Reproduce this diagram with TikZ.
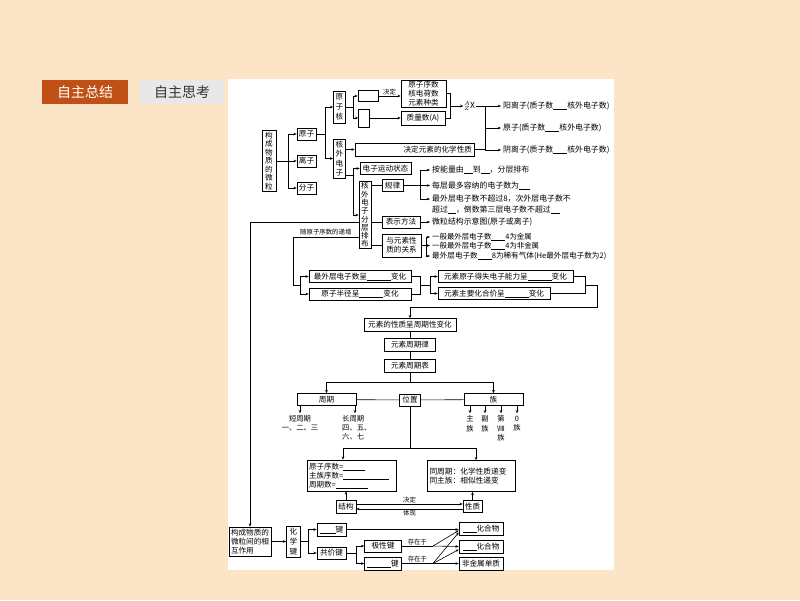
\documentclass[tikz,border=0pt]{standalone}
\usepackage{fontspec}
\setmainfont{Noto Sans CJK SC}
\usetikzlibrary{arrows.meta}
\definecolor{peach}{RGB}{252,229,198}
\definecolor{tabor}{RGB}{192,80,22}
\definecolor{tabgr}{RGB}{232,232,232}
\newcommand{\blank}[1]{\rule[-1.2pt]{#1}{0.5pt}}
\tikzset{
  bx/.style={draw, line width=0.6pt, inner sep=0pt, font=\fontsize{7.6}{9}\selectfont, align=center},
  vb/.style={draw, line width=0.6pt, inner sep=0pt, align=center, font=\fontsize{7.6}{#1}\selectfont},
  ln/.style={line width=0.6pt},
  ar/.style={line width=0.6pt, -{Stealth[length=3.2pt,width=2.6pt]}},
  tx/.style={inner sep=0pt, anchor=west, font=\fontsize{7.9}{9}\selectfont},
  sm/.style={inner sep=1pt, font=\fontsize{6.4}{7}\selectfont},
  tabbox/.style={inner sep=0pt, minimum height=24, font=\fontsize{14}{16}\selectfont},
}
\begin{document}
\begin{tikzpicture}[x=1pt,y=-1pt]
\fill[peach] (0,0) rectangle (800,600);
\useasboundingbox (0,0) rectangle (800,600);
\fill[white] (228,79) rectangle (614,570);
\node[tabbox, fill=tabor, text=white, minimum width=86] (tabA) at (85,92) {自主总结};
\node[tabbox, fill=tabgr, text=black!80, minimum width=84] (tabB) at (182,92) {自主思考};

% ---- top part ----
\node[vb=8.5, minimum width=14, minimum height=61] (gw) at (269,161) {构\\成\\物\\质\\的\\微\\粒};
\node[bx, minimum width=19, minimum height=12] (yz) at (306.5,134) {原子};
\node[bx, minimum width=19, minimum height=12] (lz) at (306.5,161) {离子};
\node[bx, minimum width=19, minimum height=12] (fz) at (306.5,188) {分子};
\node[vb=10, minimum width=12, minimum height=32] (yzh) at (339.5,107) {原\\子\\核};
\node[vb=9.5, minimum width=12, minimum height=39] (hwdz) at (339.5,158.5) {核\\外\\电\\子};
\node[bx, minimum width=20, minimum height=11] (e1) at (368,96) {};
\node[bx, minimum width=11, minimum height=18] (e2) at (364,118) {};
\node[vb=9, minimum width=45, minimum height=27] (xs) at (423.5,93.5) {原子序数\\核电荷数\\元素种类};
\node[bx, minimum width=44, minimum height=14] (zl) at (423,118.5) {质量数(\textit{A})};
\node[inner sep=0.5pt, font=\fontsize{8.5}{9}\selectfont] (zax) at (469.5,106) {$^{A}_{Z}\mathrm{X}$};
\node[bx, minimum width=119, minimum height=13, text width=115, align=right] (jd) at (414.5,149.5) {决定元素的化学性质};
\node[tx] (t1) at (503,106) {阳离子(质子数\blank{14pt}核外电子数)};
\node[tx] (t2) at (503,128) {原子(质子数\blank{14pt}核外电子数)};
\node[tx] (t3) at (503,150) {阴离子(质子数\blank{14pt}核外电子数)};

\coordinate (j1) at (288,161);
\draw[ln] (gw.east) -- (j1);
\draw[ar] (j1) |- (yz.west);
\draw[ar] (j1) -- (lz.west);
\draw[ar] (j1) |- (fz.west);
\coordinate (j2) at (325,134);
\draw[ln] (yz.east) -- (j2);
\draw[ar] (j2) |- (yzh.west);
\draw[ar] (j2) |- (hwdz.west);
\coordinate (j3) at (353,107);
\draw[ln] (yzh.east) -- (j3);
\draw[ar] (j3) |- (e1.west);
\draw[ar] (j3) |- (e2.west);
\draw[ar] (e1.east) -- (e1.east -| xs.west) node[midway, above, sm] {决定};
\draw[ar] (e2.east) -- (e2.east -| zl.west);
\coordinate (j4) at (450,106);
\draw[ln] (xs.east) -| (j4);
\draw[ln] (zl.east) -| (j4);
\draw[ar] (j4) -- (zax.west);
\coordinate (j5) at (485,106);
\draw[ln] (zax.east) -- (j5);
\draw[ar, shorten >=2pt] (j5) -- (t1.west);
\draw[ar, shorten >=2pt] (j5) |- (t2.west);
\draw[ar, shorten >=2pt] (j5) |- (t3.west);
\draw[ln] (jd.east) -- (jd.east -| j5);
\draw[ar] (hwdz.east |- jd.west) -- (jd.west);

% ---- electron arrangement ----
\node[bx, minimum width=51, minimum height=12] (yd) at (385.5,168.5) {电子运动状态};
\node[vb=8.3, minimum width=12, minimum height=67] (fc) at (365,215) {核\\外\\电\\子\\分\\层\\排\\布};
\node[bx, minimum width=21, minimum height=12] (gl) at (392.5,185.5) {规律};
\node[bx, minimum width=38, minimum height=12] (bs) at (401,222) {表示方法};
\node[vb=9, minimum width=39, minimum height=23] (gx) at (401.5,245.5) {与元素性\\质的关系};
\coordinate (j6) at (353,175);
\draw[ln] (hwdz.east |- j6) -- (j6);
\draw[ar] (j6) |- (yd.west);
\draw[ar] (j6) |- (fc.west);
\draw[ln] (fc.east |- gl.west) -- (gl.west);
\draw[ln] (fc.east |- bs.west) -- (bs.west);
\draw[ln] (fc.east |- gx.west) -- (gx.west);

\node[tx] (r1) at (432,170) {按能量由\blank{9pt}到\blank{9pt}，分层排布};
\node[tx] (r2) at (432,185.5) {每层最多容纳的电子数为\blank{11pt}};
\node[tx] (r3) at (432,199) {最外层电子数不超过8，次外层电子数不};
\node[tx] (r3b) at (432,209.5) {超过\blank{8pt}，倒数第三层电子数不超过\blank{9pt}};
\node[tx] (r4) at (432,222) {微粒结构示意图(原子或离子)};
\node[tx, font=\fontsize{7.4}{9}\selectfont] (r5) at (432,237) {一般最外层电子数\blank{14pt}4为金属};
\node[tx, font=\fontsize{7.4}{9}\selectfont] (r6) at (432,245.5) {一般最外层电子数\blank{14pt}4为非金属};
\node[tx, font=\fontsize{7.6}{9}\selectfont] (r7) at (432,256) {最外层电子数\blank{14pt}8为稀有气体(He最外层电子数为2)};
\coordinate (j7) at (420,185.5);
\draw[ln] (gl.east) -- (j7);
\draw[ar, shorten >=2pt] (j7) |- (r1.west);
\draw[ar, shorten >=2pt] (j7) -- (r2.west);
\draw[ar, shorten >=2pt] (j7) |- (r3.west);
\draw[ar, shorten >=2pt] (bs.east) -- (r4.west);
\coordinate (j8) at (426,245.5);
\draw[ln] (gx.east) -- (j8);
\draw[ar, shorten >=2pt] (j8) |- (r5.west);
\draw[ar, shorten >=2pt] (j8) -- (r6.west);
\draw[ar, shorten >=2pt] (j8) |- (r7.west);

% ---- periodic changes ----
\node[bx, minimum width=102, minimum height=12] (b1) at (360,276.5) {最外层电子数呈\blank{24pt}变化};
\node[bx, minimum width=102, minimum height=12] (b2) at (360,294) {原子半径呈\blank{24pt}变化};
\node[bx, minimum width=135, minimum height=12] (b3) at (505.5,276.5) {元素原子得失电子能力呈\blank{24pt}变化};
\node[bx, minimum width=112, minimum height=12] (b4) at (494,293.5) {元素主要化合价呈\blank{24pt}变化};
\coordinate (k1) at (250,222);
\draw[ln] (fc.west |- k1) -- (k1);
\coordinate (k2) at (293,237);
\coordinate (k3) at (293,285);
\coordinate (k4) at (300,285);
\draw[ln] (fc.west |- k2) -- (k2) -- (k3) -- (k4);
\node[sm, inner sep=0pt, anchor=south west] (lbl) at (300,235) {随原子序数的递增};
\draw[ar] (k4) |- (b1.west);
\draw[ar] (k4) |- (b2.west);
\coordinate (k5) at (420,285);
\coordinate (k6) at (430,285);
\draw[ln] (b1.east) -| (k5);
\draw[ln] (b2.east) -| (k5);
\draw[ln] (k5) -- (k6);
\draw[ar] (k6) |- (b3.west);
\draw[ar] (k6) |- (b4.west);
\coordinate (k7) at (585,285);
\coordinate (k8) at (597,307);
\draw[ln] (b3.east) -| (k7);
\draw[ln] (b4.east) -| (k7);

\node[bx, minimum width=92, minimum height=13] (p1) at (410,325) {元素的性质呈周期性变化};
\node[bx, minimum width=51, minimum height=13] (p2) at (410,345) {元素周期律};
\node[bx, minimum width=51, minimum height=13] (p3) at (410,365.5) {元素周期表};
\draw[ar] (k7) -| (k8) -| (p1.north);
\draw[ln] (p1) -- (p2);
\draw[ln] (p2) -- (p3);

% ---- position ----
\node[bx, minimum width=59, minimum height=12] (zq) at (326.5,399.5) {周期};
\node[bx, minimum width=21, minimum height=12] (wz) at (410,400) {位置};
\node[bx, minimum width=59, minimum height=12] (zu) at (493.5,399.5) {族};
\coordinate (m1) at (410,382);
\draw[ln] (p3.south) -- (m1);
\draw[ar] (m1) -| (zq.north);
\draw[ar] (m1) -| (zu.north);
\draw[ln] (zq) -- (wz);
\draw[ln] (wz) -- (zu);
\draw[ar] ([xshift=-26.5pt]zq.south) -- ++(0,7.5);
\draw[ar] ([xshift=28.5pt]zq.south) -- ++(0,7.5);
\node[inner sep=0pt, anchor=north, align=center, font=\fontsize{7.3}{9}\selectfont] (dq) at (300,415.5) {短周期\\一、二、三};
\node[inner sep=0pt, anchor=north west, align=left, font=\fontsize{7.3}{9}\selectfont] (cq) at (342,415.5) {长周期\\四、五、\\六、七};
\draw[ar] ([xshift=-23.5pt]zu.south) -- ++(0,7.5);
\draw[ar] ([xshift=-8.5pt]zu.south) -- ++(0,7.5);
\draw[ar] ([xshift=7.5pt]zu.south) -- ++(0,7.5);
\draw[ar] ([xshift=23.5pt]zu.south) -- ++(0,7.5);
\node[inner sep=0pt, anchor=north, align=center, font=\fontsize{7.3}{9.5}\selectfont] (zz) at (470,415.5) {主\\族};
\node[inner sep=0pt, anchor=north, align=center, font=\fontsize{7.3}{9.5}\selectfont] (fuz) at (485,415.5) {副\\族};
\node[inner sep=0pt, anchor=north, align=center, font=\fontsize{7.3}{9.5}\selectfont] (d8) at (501,415.5) {第\\Ⅷ\\族};
\node[inner sep=0pt, anchor=north, align=center, font=\fontsize{7.3}{9.5}\selectfont] (z0) at (517,415.5) {0\\族};

\node[bx, minimum width=89, minimum height=31, text width=85, align=left, font=\fontsize{7.5}{9}\selectfont] (lb) at (351.5,475.5) {原子序数=\blank{22pt}\\主族序数=\blank{46pt}\\周期数=\blank{32pt}};
\node[bx, minimum width=88, minimum height=31, text width=84, align=left, font=\fontsize{7.7}{9.5}\selectfont] (rb) at (471.5,476) {同周期：化学性质递变\\同主族：相似性递变};
\coordinate (m2) at (410,448);
\draw[ln] (wz.south) -- (m2);
\draw[ar] (m2) -| ([xshift=-8.5pt]lb.north);
\draw[ar] (m2) -| ([xshift=4.5pt]rb.north);

\node[bx, minimum width=20, minimum height=13] (jg) at (346,506.5) {结构};
\node[bx, minimum width=19, minimum height=12] (xz) at (472.5,506.5) {性质};
\draw[ar] (jg.north) -- (jg.north |- lb.south);
\draw[ar] (xz.north) -- (xz.north |- rb.south);
\draw[ar] ([yshift=2.5pt]jg.east) -- ([yshift=2.5pt]xz.west) node[midway, above, sm] {决定};
\draw[ar] ([yshift=-2.5pt]xz.west) -- ([yshift=-2.5pt]jg.east) node[midway, below, sm] {体现};

% ---- bonds ----
\node[bx, minimum width=42, minimum height=29, align=left] (hz) at (250,541.5) {构成物质的\\微粒间的相\\互作用};
\draw[ar] (k1) -- (hz.north);
\node[vb=10, minimum width=14, minimum height=31] (hxj) at (293.5,541.5) {化\\学\\键};
\draw[ar] (hz.east) -- (hxj.west);
\node[bx, minimum width=29, minimum height=13] (lzj) at (331.5,529.5) {\blank{16pt}键};
\node[bx, minimum width=29, minimum height=12] (gjj) at (331.5,553) {共价键};
\coordinate (n1) at (308,541.5);
\draw[ln] (hxj.east) -- (n1);
\draw[ar] (n1) |- (lzj.west);
\draw[ar] (n1) |- (gjj.west);
\node[bx, minimum width=37, minimum height=12] (jx) at (383,546) {极性键};
\node[bx, minimum width=37, minimum height=13] (fjx) at (383,563.5) {\blank{24pt}键};
\coordinate (n2) at (356,553);
\draw[ln] (gjj.east) -- (n2);
\draw[ar] (n2) |- (jx.west);
\draw[ar] (n2) |- (fjx.west);
\node[bx, minimum width=44, minimum height=13] (c1) at (481,528.5) {\blank{14pt}化合物};
\node[bx, minimum width=44, minimum height=13] (c2) at (481,546.5) {\blank{14pt}化合物};
\node[bx, minimum width=44, minimum height=13] (c3) at (481,563.5) {非金属单质};
\draw[ar] (lzj.east) -- (lzj.east -| c1.west);
\coordinate (P) at (433,546);
\coordinate (N) at (433,563.5);
\draw[ln] (jx.east) -- (P) node[midway, above, sm] {存在于};
\draw[ln] (fjx.east) -- (N) node[midway, above, sm] {存在于};
\draw[ar] (P) -- ([yshift=-2pt]c1.west);
\draw[ar] (P) -- (c2.west);
\draw[ar] (N) -- ([yshift=-4pt]c1.west);
\draw[ar] (N) -- ([yshift=-3pt]c2.west);
\draw[ar] (N) -- (c3.west);
\end{tikzpicture}
\end{document}
